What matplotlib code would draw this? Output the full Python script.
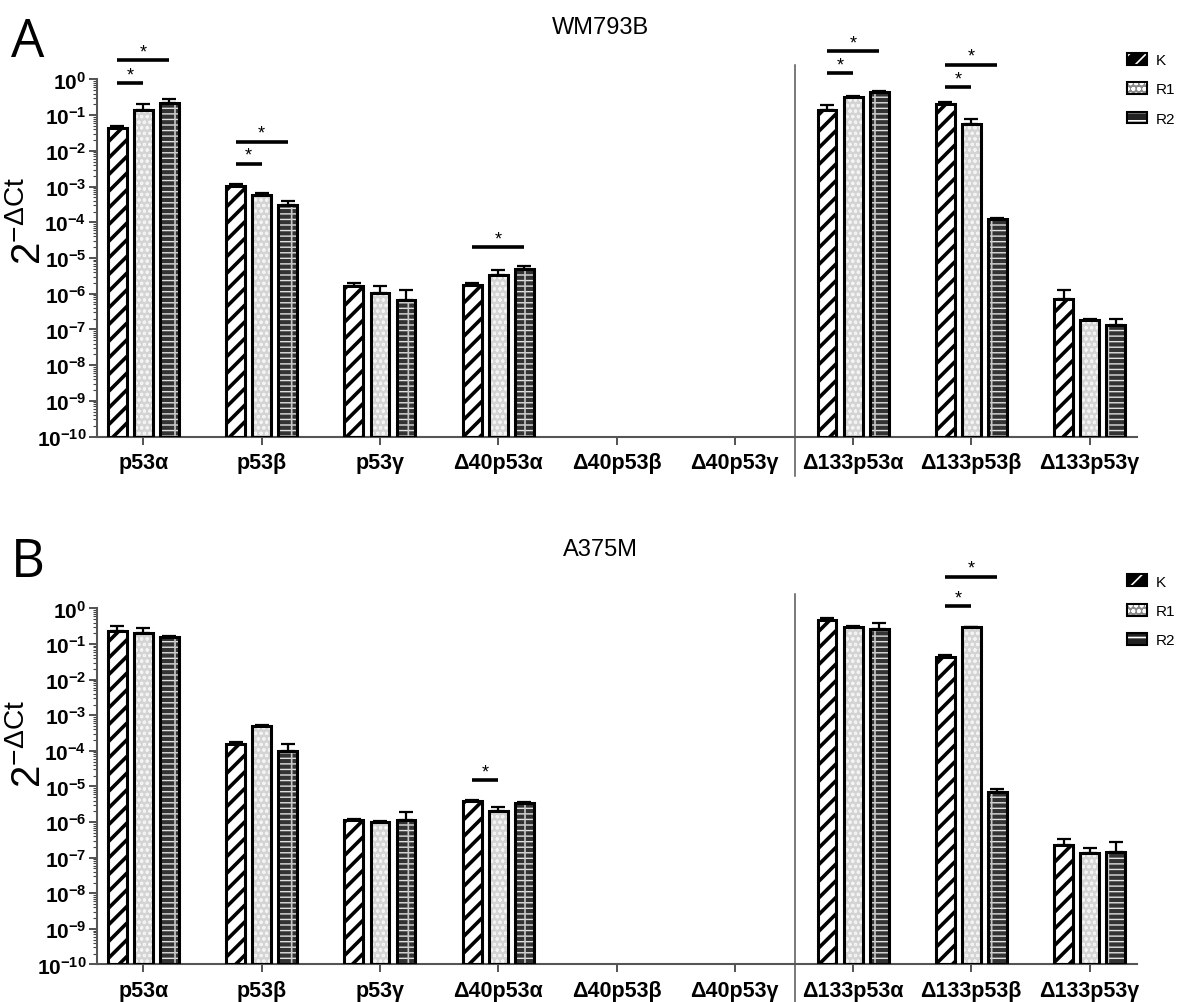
import numpy as np
import matplotlib.pyplot as plt
from matplotlib.patches import Patch
from matplotlib.ticker import LogLocator, NullFormatter

plt.rcParams['font.family'] = ['Liberation Sans', 'DejaVu Sans']
plt.rcParams['mathtext.fontset'] = 'custom'
plt.rcParams['mathtext.rm'] = 'Liberation Sans'
plt.rcParams['mathtext.bf'] = 'Liberation Sans:bold'
plt.rcParams['mathtext.it'] = 'Liberation Sans:italic'
plt.rcParams['hatch.linewidth'] = 1.2

nan = np.nan
categories = ['p53α', 'p53β', 'p53γ', 'Δ40p53α', 'Δ40p53β', 'Δ40p53γ',
              'Δ133p53α', 'Δ133p53β', 'Δ133p53γ']
samples = ['K', 'R1', 'R2']

# WM793B  (2^-dCt, mean and upper SEM)
wm_k = [0.043, 1.04e-3, 1.67e-6, 1.75e-6, nan, nan, 0.143, 0.20, 7.1e-7]
wm_k_err = [0.006, 1.1e-4, 2.8e-7, 2.0e-7, nan, nan, 0.054, 0.03, 5.9e-7]
wm_r1 = [0.143, 5.9e-4, 1.05e-6, 3.34e-6, nan, nan, 0.316, 0.057, 1.83e-7]
wm_r1_err = [0.057, 7e-5, 6.2e-7, 1.26e-6, nan, nan, 0.024, 0.021, 7e-9]
wm_r2 = [0.224, 3.1e-4, 6.6e-7, 4.9e-6, nan, nan, 0.44, 1.21e-4, 1.35e-7]
wm_r2_err = [0.06, 8e-5, 6.3e-7, 1.1e-6, nan, nan, 0.045, 9e-6, 6.1e-8]

# A375M
a3_k = [0.229, 1.56e-4, 1.17e-6, 3.84e-6, nan, nan, 0.484, 0.0426, 2.32e-7]
a3_k_err = [0.087, 2.6e-5, 7e-8, 4.6e-7, nan, nan, 0.046, 0.0074, 1.03e-7]
a3_r1 = [0.20, 4.9e-4, 9.9e-7, 2.09e-6, nan, nan, 0.31, 0.296, 1.33e-7]
a3_r1_err = [0.078, 4e-5, 1.1e-7, 5.1e-7, nan, nan, 0.01, 0.014, 4.9e-8]
a3_r2 = [0.155, 1.0e-4, 1.17e-6, 3.46e-6, nan, nan, 0.265, 6.9e-6, 1.4e-7]
a3_r2_err = [0.015, 5.6e-5, 7.3e-7, 2.4e-7, nan, nan, 0.119, 1.6e-6, 1.33e-7]

# significance brackets: (category index, from sample, to sample, height)
wm_sig = [(0, 0, 1, 0.78), (0, 0, 2, 3.5), (1, 0, 1, 4.4e-3), (1, 0, 2, 1.8e-2),
          (3, 0, 2, 2.0e-5), (6, 0, 1, 1.5), (6, 0, 2, 6.2), (7, 0, 1, 0.6),
          (7, 0, 2, 2.6)]
a3_sig = [(3, 0, 1, 1.5e-5), (7, 0, 1, 1.17), (7, 0, 2, 7.8)]

decades = list(range(-10, 1))

styles = [
    dict(facecolor='white', hatch='//', hcolor='black', hlw=2.6),
    dict(facecolor='#d4d4d4', hatch='ooo', hcolor='#f4f4f4', hlw=0.8),
    dict(facecolor='#333333', hatch='---', hcolor='#e0e0e0', hlw=1.0),
]

fig = plt.figure(figsize=(11.84, 10.03), dpi=100)
x = np.arange(len(categories))
offsets = [-0.22, 0.0, 0.22]
width = 0.16
ymin = 1e-10


def draw_panel(ax, means, errs, sigs):
    ax.set_yscale('log')
    ax.set_ylim(ymin, 1)
    ax.set_xlim(-0.39, 8.40)
    for j, (m, e) in enumerate(zip(means, errs)):
        m = np.array(m)
        e = np.array(e)
        st = styles[j]
        fill = ax.bar(x + offsets[j], m - ymin, width, bottom=ymin,
                      facecolor=st['facecolor'], hatch=st['hatch'],
                      edgecolor=st['hcolor'], linewidth=0, zorder=2)
        for p in fill.patches:
            if hasattr(p, 'set_hatch_linewidth'):
                p.set_hatch_linewidth(st['hlw'])
        if j == 2:
            # short vertical joints of the brick pattern
            ax.bar(x + offsets[j], m - ymin, width, bottom=ymin, fill=False,
                   hatch='|', edgecolor='#c8c8c8', linewidth=0, zorder=2)
        ax.bar(x + offsets[j], m - ymin, width, bottom=ymin, fill=False,
               edgecolor='black', linewidth=2.2, zorder=3)
        ax.errorbar(x + offsets[j], m, yerr=[np.zeros_like(e), e], fmt='none',
                    ecolor='black', elinewidth=1.6, capsize=5, capthick=1.6,
                    zorder=4)
    for ci, a, b, h in sigs:
        x0 = x[ci] + offsets[a]
        x1 = x[ci] + offsets[b]
        ax.plot([x0, x1], [h, h], color='black', lw=2.6, clip_on=False,
                solid_capstyle='butt')
        ax.annotate('*', xy=((x0 + x1) / 2, h), xytext=(0, 0),
                    textcoords='offset points', ha='center', va='bottom',
                    fontsize=13, annotation_clip=False)
    ax.set_yticks([10.0 ** d for d in decades])
    ax.set_yticklabels([r'$\mathbf{10^{%d}}$' % d for d in decades])
    ax.yaxis.set_minor_locator(LogLocator(base=10, subs=np.arange(2, 10),
                                          numticks=20))
    ax.yaxis.set_minor_formatter(NullFormatter())
    ax.set_xticks(x)
    ax.set_xticklabels(categories, fontweight='bold', fontsize=15.5)
    ax.tick_params(axis='y', which='major', length=6, width=1.3,
                   labelsize=15, pad=2, color='#444444')
    ax.tick_params(axis='y', which='minor', length=3, width=0.8, color='#444444')
    ax.tick_params(axis='x', length=6, width=1.3, pad=5, color='#444444')
    for s in ['top', 'right']:
        ax.spines[s].set_visible(False)
    for s in ['left', 'bottom']:
        ax.spines[s].set_linewidth(1.5)
        ax.spines[s].set_color('#555555')
    # separator between the Δ40 and Δ133 isoforms
    ax.plot([5.51, 5.51], [-0.11, 1.04], color='#555555', lw=1.1,
            transform=ax.get_xaxis_transform(), clip_on=False)


axA = fig.add_axes([0.0822, 0.5638, 0.878, 0.356])
draw_panel(axA, [wm_k, wm_r1, wm_r2], [wm_k_err, wm_r1_err, wm_r2_err], wm_sig)
axB = fig.add_axes([0.0822, 0.0374, 0.878, 0.355])
draw_panel(axB, [a3_k, a3_r1, a3_r2], [a3_k_err, a3_r1_err, a3_r2_err], a3_sig)

legend_faces = ['black', '#8a8a8a', '#222222']
legend_hatch = ['//', 'ooo', '--']
for title, ly, letter, lety, leg_y, ylab_y in [
        ('WM793B', 0.972, 'A', 0.957, 0.96, 0.78),
        ('A375M', 0.452, 'B', 0.438, 0.44, 0.258)]:
    fig.text(0.507, ly, title, ha='center', va='center', fontsize=17)
    fig.text(0.009, lety, letter, ha='left', va='center', fontsize=38,
             family=['Open Sans', 'DejaVu Sans'])
    handles = []
    for fc, hh in zip(legend_faces, legend_hatch):
        h1 = Patch(facecolor=fc, hatch=hh, edgecolor='white', linewidth=0)
        h2 = Patch(fill=False, edgecolor='black', linewidth=1.5)
        handles.append((h1, h2))
    fig.legend(handles, samples, loc='upper left',
               bbox_to_anchor=(0.940, leg_y), frameon=False,
               fontsize=11, handlelength=1.3, handleheight=0.8,
               handletextpad=0.6, labelspacing=1.0)
    fig.text(0.024, ylab_y, r'$\mathregular{2^{-\Delta Ct}}$', rotation=90,
             ha='center', va='center', fontsize=29)

fig.savefig('out.png', dpi=100)
